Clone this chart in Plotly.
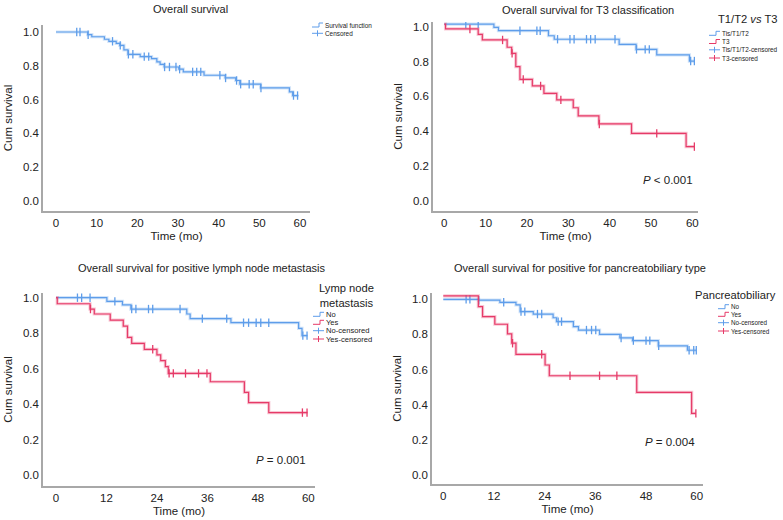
import plotly.graph_objects as go

# ---------------- data ----------------
# Panel 1: overall survival
p1_times = [0, 7.8, 8.8, 11.9, 13.0, 14.8, 15.7, 16.7, 17.7, 20.7, 23.5, 24.8, 25.6, 26.6,
            30.2, 31.3, 36.4, 41.6, 44.2, 45.2, 50.3, 57.4, 58.2, 59.6]
p1_surv = [1.0, 0.984, 0.972, 0.957, 0.945, 0.933, 0.921, 0.894, 0.868, 0.854, 0.843, 0.823,
           0.809, 0.793, 0.78, 0.764, 0.744, 0.728, 0.713, 0.691, 0.669, 0.646, 0.624, 0.624]
p1_cens = [5.1, 5.9, 7.9, 13.9, 15.8, 17.8, 18.9, 21.7, 22.8, 26.7, 27.9, 29.5, 30.4, 33.6,
           34.6, 35.6, 40.3, 41.7, 44.4, 45.4, 47.5, 48.5, 50.4, 58.4, 59.4]

# Panel 2: T classification
p2a_times = [0, 12.0, 13.1, 25.2, 26.6, 42.3, 46.4, 51.4, 59.3, 60.5]
p2a_surv = [1.015, 0.996, 0.977, 0.948, 0.928, 0.899, 0.870, 0.838, 0.803, 0.803]
p2a_cens = [5.2, 8.2, 18.3, 22.4, 23.2, 27.4, 30.4, 31.4, 34.4, 35.4, 36.5, 41.3, 46.5,
            48.6, 49.6, 59.6, 60.5]
p2b_times = [0, 0.3, 8.2, 9.2, 15.2, 16.3, 17.3, 18.3, 21.3, 24.1, 27.2, 31.2, 32.4, 37.4,
             45.3, 58.5, 60.5]
p2b_surv = [1.015, 0.987, 0.956, 0.924, 0.882, 0.847, 0.771, 0.698, 0.66, 0.618, 0.58, 0.535,
            0.488, 0.442, 0.388, 0.312, 0.312]
p2b_cens = [6.2, 14.1, 16.4, 19.1, 23.3, 28.2, 37.5, 51.4, 60.5]

# Panel 3: lymph node metastasis
p3a_times = [0, 12.1, 15.8, 17.8, 31.1, 31.9, 41.6, 57.7, 58.5, 59.8]
p3a_surv = [1.0, 0.979, 0.959, 0.936, 0.908, 0.882, 0.859, 0.827, 0.786, 0.786]
p3a_cens = [5.1, 6.1, 8.1, 14.0, 18.0, 19.0, 22.0, 23.0, 29.5, 34.8, 40.6, 44.6, 45.8,
            47.6, 48.7, 50.6, 58.7, 59.7]
p3b_times = [0, 0.3, 8.1, 9.1, 12.9, 16.0, 17.0, 18.0, 21.0, 24.0, 24.9, 26.0, 26.7, 36.7,
             44.8, 45.8, 50.6, 59.8]
p3b_surv = [1.0, 0.966, 0.936, 0.908, 0.874, 0.840, 0.776, 0.742, 0.709, 0.677, 0.645,
            0.611, 0.573, 0.526, 0.466, 0.408, 0.352, 0.352]
p3b_cens = [8.2, 23.0, 26.9, 27.9, 30.8, 33.9, 35.9, 58.6, 59.7]

# Panel 4: pancreatobiliary type
p4a_times = [0, 8.4, 13.4, 17.2, 18.2, 21.3, 26.0, 26.8, 30.8, 32.0, 37.0, 41.8, 44.8,
             50.9, 57.8, 59.9]
p4a_surv = [1.0, 0.995, 0.983, 0.968, 0.93, 0.916, 0.895, 0.873, 0.844, 0.825, 0.80, 0.78,
            0.765, 0.735, 0.71, 0.71]
p4a_cens = [5.4, 6.3, 8.4, 14.3, 18.4, 19.3, 22.3, 23.3, 27.2, 28.0, 33.9, 35.1, 36.1,
            42.1, 45.0, 48.0, 48.9, 51.0, 58.2, 59.3, 59.9]
p4b_times = [0, 8.3, 9.3, 12.2, 15.2, 16.2, 17.2, 24.1, 25.1, 45.8, 58.8, 59.8]
p4b_surv = [1.019, 0.958, 0.901, 0.858, 0.803, 0.75, 0.687, 0.626, 0.565, 0.47, 0.351, 0.351]
p4b_cens = [16.4, 23.3, 30.0, 37.0, 41.1, 59.8]

y_ticks = [0.0, 0.2, 0.4, 0.6, 0.8, 1.0]
x_ticks_10 = [0, 10, 20, 30, 40, 50, 60]
x_ticks_12 = [0, 12, 24, 36, 48, 60]

titles = ["Overall survival",
          "Overall survival for T3 classification",
          "Overall survival for positive lymph node metastasis",
          "Overall survival for positive for pancreatobiliary type"]
p_values = [None, "<i>P</i> < 0.001", "<i>P</i> = 0.001", "<i>P</i> = 0.004"]

# ---------------- styling ----------------
W, H = 783, 520
BLUE = "#5E9DEA"
BLUE_S = "rgba(94,157,234,0.28)"
RED = "#E63A68"
RED_S = "rgba(230,58,104,0.28)"
FONT = "Liberation Sans, Arial, sans-serif"
TXT = "#222222"
AXC = "#A8A8A8"


def px_x(x):
    return x / W


def px_y(y):
    return 1 - y / H


# pixel anchors per panel: axis left/right, x0 px, x60 px, y(1.0) px, y(0.0) px, axis bottom/top
panels = [
    dict(l=43, r=310, x0=56, x60=300, y1=32, y0=201, b=211, t=25, xt=x_ticks_10),
    dict(l=433, r=698, x0=444.3, x60=692.3, y1=26.7, y0=201, b=211, t=22, xt=x_ticks_10),
    dict(l=43, r=315, x0=56, x60=308.3, y1=297.7, y0=475, b=486, t=293, xt=x_ticks_12),
    dict(l=432, r=703, x0=443.3, x60=696.7, y1=299.3, y0=475, b=484, t=293, xt=x_ticks_12),
]


def km_at(times, surv, t):
    v = surv[0]
    for ti, si in zip(times, surv):
        if ti <= t:
            v = si
    return v


fig = go.Figure()


def add_curve(k, times, surv, cens, col, shadow, name):
    xa = "x" if k == 0 else f"x{k+1}"
    ya = "y" if k == 0 else f"y{k+1}"
    fig.add_trace(go.Scatter(x=times, y=surv, mode="lines", line=dict(color=shadow, width=3.2, shape="hv"),
                             xaxis=xa, yaxis=ya, showlegend=False, hoverinfo="skip"))
    fig.add_trace(go.Scatter(x=times, y=surv, mode="lines", line=dict(color=col, width=1.2, shape="hv"),
                             xaxis=xa, yaxis=ya, showlegend=False, name=name))
    fig.add_trace(go.Scatter(x=cens, y=[km_at(times, surv, c) for c in cens], mode="markers",
                             marker=dict(symbol="line-ns", size=6, line=dict(width=1.3, color=col)),
                             xaxis=xa, yaxis=ya, showlegend=False, name=name + "-censored"))


add_curve(0, p1_times, p1_surv, p1_cens, BLUE, BLUE_S, "Survival function")
add_curve(1, p2a_times, p2a_surv, p2a_cens, BLUE, BLUE_S, "Tis/T1/T2")
add_curve(1, p2b_times, p2b_surv, p2b_cens, RED, RED_S, "T3")
add_curve(2, p3a_times, p3a_surv, p3a_cens, BLUE, BLUE_S, "No")
add_curve(2, p3b_times, p3b_surv, p3b_cens, RED, RED_S, "Yes")
add_curve(3, p4a_times, p4a_surv, p4a_cens, BLUE, BLUE_S, "No")
add_curve(3, p4b_times, p4b_surv, p4b_cens, RED, RED_S, "Yes")

layout = dict(width=W, height=H, margin=dict(l=0, r=0, t=0, b=0),
              paper_bgcolor="white", plot_bgcolor="white", showlegend=False,
              font=dict(family=FONT, color=TXT, size=11))

for k, p in enumerate(panels):
    pxper = (p["x60"] - p["x0"]) / 60.0
    pyper = p["y0"] - p["y1"]
    xr = [(p["l"] - p["x0"]) / pxper, (p["r"] - p["x0"]) / pxper]
    yr = [(p["y0"] - p["b"]) / pyper, (p["y0"] - p["t"]) / pyper]
    sfx = "" if k == 0 else str(k + 1)
    layout["xaxis" + sfx] = dict(domain=[px_x(p["l"]), px_x(p["r"])], range=xr,
                                 anchor="y" + sfx, tickvals=p["xt"], showgrid=False, zeroline=False,
                                 showline=True, linecolor=AXC, linewidth=1.6, ticks="",
                                 tickfont=dict(size=11.5, color=TXT),
                                 title=dict(text="Time (mo)", font=dict(size=11.5, color=TXT), standoff=4))
    layout["yaxis" + sfx] = dict(domain=[px_y(p["b"]), px_y(p["t"])], range=yr,
                                 anchor="x" + sfx, tickvals=y_ticks, tickformat=".1f",
                                 showgrid=False, zeroline=False, showline=True, linecolor=AXC,
                                 linewidth=1.6, ticks="", tickfont=dict(size=11.5, color=TXT),
                                 title=dict(text="Cum survival", font=dict(size=11.5, color=TXT), standoff=8))

fig.update_layout(**layout)

ann = []
shapes = []
# panel titles
title_pos = [(190, 9), (587.5, 9.5), (201, 267.5), (580, 267.5)]
for t, (x, y) in zip(titles, title_pos):
    ann.append(dict(text=t, x=px_x(x), y=px_y(y), xref="paper", yref="paper", xanchor="center",
                    yanchor="middle", showarrow=False, font=dict(size=11, color=TXT)))
# p values
p_pos = [None, (695, 180), (308, 460), (697, 441.7)]
for t, pp in zip(p_values, p_pos):
    if t:
        ann.append(dict(text=t, x=px_x(pp[0]), y=px_y(pp[1]), xref="paper", yref="paper",
                        xanchor="right", yanchor="middle", showarrow=False,
                        font=dict(size=11.5, color=TXT)))

# legends (titles + entries)
leg_titles = [None, ("T1/T2 <i>vs</i> T3", 778, 19.5, "right"),
              ("Lymp node<br>metastasis", 346.7, 295, "center"),
              ("Pancreatobiliary", 777, 295, "right")]
for lt in leg_titles:
    if lt:
        ann.append(dict(text=lt[0], x=px_x(lt[1]), y=px_y(lt[2]), xref="paper", yref="paper",
                        xanchor=lt[3], yanchor="middle", align="center", showarrow=False,
                        borderpad=0, font=dict(size=11.2, color=TXT)))

# (glyph x, text size, entries)
legend_entries = [
    (312, 6.4, [(25, "Survival function", BLUE, "step"), (33.3, "Censored", BLUE, "cens")]),
    (709, 6.4, [(33.3, "Tis/T1/T2", BLUE, "step"), (41.5, "T3", RED, "step"),
                (49.8, "Tis/T1/T2-censored", BLUE, "cens"), (58, "T3-censored", RED, "cens")]),
    (313, 7.6, [(314.3, "No", BLUE, "step"), (322.3, "Yes", RED, "step"),
                (330.7, "No-censored", BLUE, "cens"), (339, "Yes-censored", RED, "cens")]),
    (718, 6.3, [(306.7, "No", BLUE, "step"), (314.3, "Yes", RED, "step"),
                (322.7, "No-censored", BLUE, "cens"), (331, "Yes-censored", RED, "cens")]),
]
for gx, fs, entries in legend_entries:
    for (yy, label, col, kind) in entries:
        if kind == "step":
            path = (f"M {px_x(gx)},{px_y(yy + 2)} L {px_x(gx + 7)},{px_y(yy + 2)} "
                    f"L {px_x(gx + 7)},{px_y(yy - 2)} L {px_x(gx + 11)},{px_y(yy - 2)}")
            shapes.append(dict(type="path", path=path, xref="paper", yref="paper",
                               line=dict(color=col, width=1)))
        else:
            shapes.append(dict(type="line", x0=px_x(gx), x1=px_x(gx + 11), y0=px_y(yy), y1=px_y(yy),
                               xref="paper", yref="paper", line=dict(color=col, width=1)))
            shapes.append(dict(type="line", x0=px_x(gx + 5.5), x1=px_x(gx + 5.5), y0=px_y(yy - 3),
                               y1=px_y(yy + 3), xref="paper", yref="paper", line=dict(color=col, width=1)))
        ann.append(dict(text=label, x=px_x(gx + 12), y=px_y(yy), xref="paper", yref="paper",
                        xanchor="left", yanchor="middle", showarrow=False, borderpad=0,
                        font=dict(size=fs, color=TXT)))

fig.update_layout(annotations=ann, shapes=shapes)
fig.write_html("out.html", config={"displayModeBar": False},
               post_script="document.body.style.margin='0';document.body.style.overflow='hidden';")
